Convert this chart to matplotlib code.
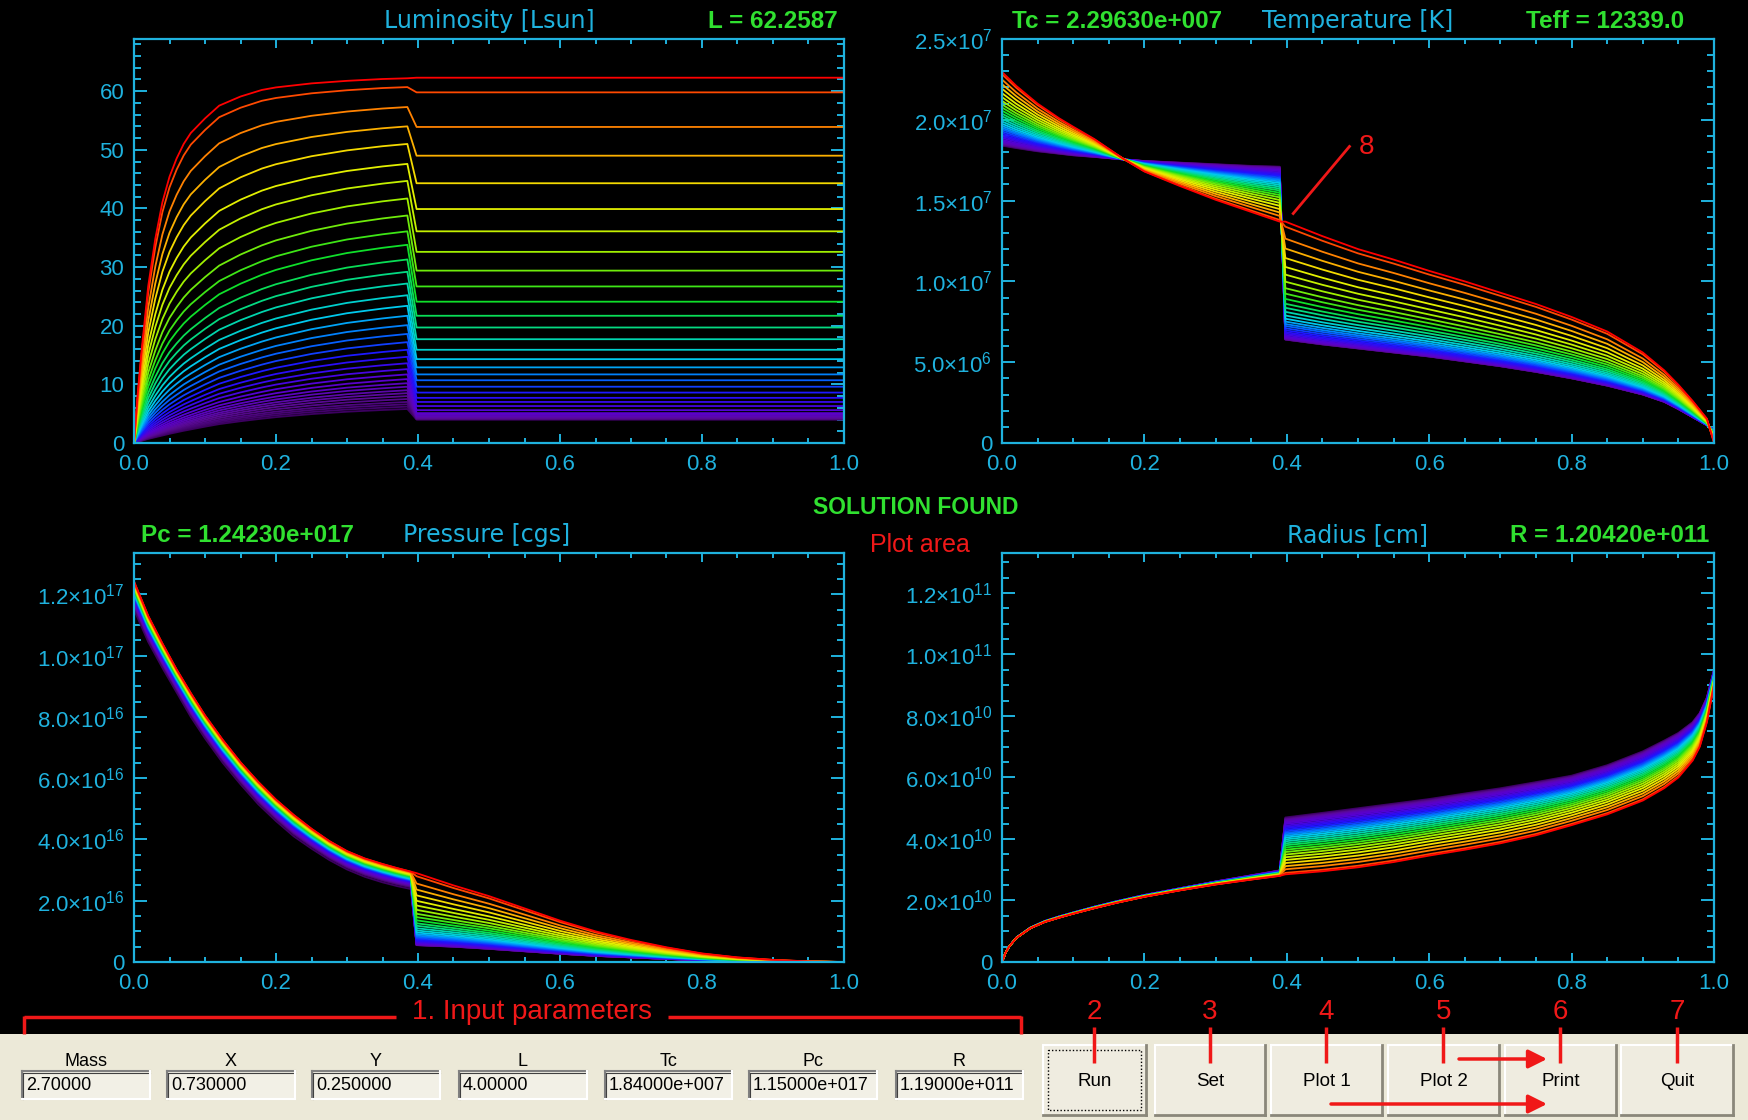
import numpy as np
import matplotlib
matplotlib.use("Agg")
import matplotlib.pyplot as plt
from matplotlib.colors import LinearSegmentedColormap
from matplotlib.patches import Rectangle
from matplotlib.ticker import FixedLocator, MultipleLocator

plt.rcParams['font.family'] = ['Liberation Sans', 'DejaVu Sans']
plt.rcParams['mathtext.default'] = 'regular'

W, H = 1749, 1120
CYAN = '#1FB2DE'
GREEN = '#30E030'
RED = '#F01818'
BEIGE = '#ECE9D8'

# ---------------- data (iterations listed from last/red to first/purple) -------------
lum_peak = [62.2, 60.7, 57.3, 54.0, 51.0, 47.6, 44.7, 41.7, 38.8, 36.1, 33.8, 31.3,
            29.2, 27.2, 25.2, 23.4, 21.7, 20.1, 18.6, 17.2, 15.9, 14.7, 13.6, 12.6,
            11.7, 10.9, 10.2, 9.6, 9.0, 8.5, 8.0, 7.5, 7.0, 6.6, 6.2, 5.8]
lum_plateau = [62.3, 59.8, 53.9, 49.0, 44.3, 39.9, 36.1, 32.6, 29.4, 26.7, 24.1, 21.7,
               19.7, 17.7, 15.9, 14.3, 12.9, 11.7, 10.7, 9.6, 8.6, 7.7, 7.0, 6.3,
               5.6, 5.1, 4.8, 4.6, 4.45, 4.35, 4.25, 4.18, 4.12, 4.07, 4.03, 4.0]
# normalised rise of L(m) inside the core (last and first iteration)
lum_x_in = [0, 0.005, 0.01, 0.02, 0.03, 0.04, 0.05, 0.06, 0.07, 0.08, 0.1, 0.12, 0.15,
            0.18, 0.2, 0.25, 0.3, 0.35, 0.385]
lum_shape_last = [0, 0.13, 0.24, 0.43, 0.56, 0.66, 0.73, 0.78, 0.82, 0.85, 0.89, 0.925, 0.95,
                  0.968, 0.975, 0.986, 0.993, 0.998, 1.0]
lum_shape_first = [0, 0.03, 0.06, 0.12, 0.17, 0.22, 0.27, 0.315, 0.36, 0.40, 0.48, 0.555, 0.64,
                   0.715, 0.76, 0.85, 0.92, 0.97, 1.0]
lum_x_out = [0.398, 1.0]

temp_x_in = [0, 0.02, 0.05, 0.08, 0.1, 0.13, 0.17, 0.2, 0.25, 0.3, 0.35, 0.39]
temp_last_in = [2.296e7, 2.21e7, 2.10e7, 2.01e7, 1.957e7, 1.88e7, 1.76e7, 1.68e7, 1.59e7, 1.505e7, 1.43e7, 1.37e7]
temp_first_in = [1.84e7, 1.825e7, 1.805e7, 1.79e7, 1.78e7, 1.77e7, 1.755e7, 1.745e7, 1.735e7, 1.725e7, 1.715e7, 1.71e7]
temp_x_out = [0.398, 0.45, 0.5, 0.55, 0.6, 0.65, 0.7, 0.75, 0.8, 0.85, 0.9, 0.93, 0.95, 0.97, 0.99, 1.0]
temp_last_out = [1.37e7, 1.28e7, 1.20e7, 1.135e7, 1.065e7, 1.0e7, 9.3e6, 8.6e6, 7.8e6, 6.9e6,
                 5.6e6, 4.5e6, 3.6e6, 2.6e6, 1.5e6, 1.2339e4]
temp_first_out = [6.4e6, 6.1e6, 5.85e6, 5.6e6, 5.35e6, 5.05e6, 4.75e6, 4.4e6, 4.0e6, 3.55e6,
                  3.0e6, 2.55e6, 2.1e6, 1.6e6, 1.1e6, 0.8e6]

pres_x_in = [0, 0.02, 0.04, 0.06, 0.08, 0.1, 0.125, 0.15, 0.175, 0.2, 0.225, 0.25, 0.275,
             0.3, 0.325, 0.35, 0.37, 0.39]
pres_last_in = [1.2423e17, 1.13e17, 1.04e17, 9.55e16, 8.78e16, 8.05e16, 7.25e16, 6.52e16,
                5.88e16, 5.3e16, 4.8e16, 4.35e16, 3.95e16, 3.62e16, 3.38e16, 3.2e16, 3.07e16, 2.95e16]
pres_first_in = [1.15e17, 1.045e17, 9.6e16, 8.8e16, 8.0e16, 7.3e16, 6.5e16, 5.8e16, 5.15e16,
                 4.6e16, 4.1e16, 3.7e16, 3.33e16, 3.02e16, 2.78e16, 2.6e16, 2.48e16, 2.38e16]
pres_x_out = [0.398, 0.45, 0.5, 0.55, 0.6, 0.65, 0.7, 0.75, 0.8, 0.85, 0.9, 0.95, 1.0]
pres_last_out = [2.9e16, 2.5e16, 2.15e16, 1.75e16, 1.35e16, 1.0e16, 7.2e15, 4.8e15, 2.8e15,
                 1.5e15, 7e14, 2e14, 0.0]
pres_first_out = [5.5e15, 5.0e15, 4.3e15, 3.5e15, 2.7e15, 2.0e15, 1.5e15, 1.0e15, 6e14,
                  3e14, 1e14, 0.0, 0.0]

rad_x_in = [0, 0.005, 0.01, 0.02, 0.04, 0.06, 0.08, 0.1, 0.13, 0.16, 0.2, 0.25, 0.3, 0.35, 0.39]
rad_last_in = [0.0, 3.0e9, 5.0e9, 7.8e9, 1.10e10, 1.30e10, 1.44e10, 1.57e10, 1.75e10, 1.92e10,
               2.12e10, 2.33e10, 2.52e10, 2.68e10, 2.80e10]
rad_first_in = [0.0, 3.0e9, 5.0e9, 7.9e9, 1.12e10, 1.33e10, 1.48e10, 1.61e10, 1.80e10, 1.97e10,
                2.18e10, 2.40e10, 2.62e10, 2.82e10, 2.98e10]
rad_x_out = [0.398, 0.45, 0.5, 0.55, 0.6, 0.65, 0.7, 0.75, 0.8, 0.85, 0.9, 0.93, 0.95, 0.97, 0.98, 0.99, 1.0]
rad_last_out = [2.85e10, 2.95e10, 3.08e10, 3.25e10, 3.46e10, 3.65e10, 3.86e10, 4.12e10, 4.45e10,
                4.8e10, 5.25e10, 5.65e10, 6.0e10, 6.55e10, 7.0e10, 7.8e10, 9.0e10]
rad_first_out = [4.7e10, 4.85e10, 5.0e10, 5.15e10, 5.3e10, 5.48e10, 5.65e10, 5.85e10, 6.06e10,
                 6.4e10, 6.85e10, 7.2e10, 7.45e10, 7.8e10, 8.1e10, 8.6e10, 9.5e10]

L_final = 62.2587
Tc_final = 2.29630e7
Teff_final = 12339.0
Pc_final = 1.24230e17
R_final = 1.20420e11

input_names = ['Mass', 'X', 'Y', 'L', 'Tc', 'Pc', 'R']
input_values = ['2.70000', '0.730000', '0.250000', '4.00000', '1.84000e+007', '1.15000e+017', '1.19000e+011']
button_names = ['Run', 'Set', 'Plot 1', 'Plot 2', 'Print', 'Quit']
button_numbers = ['2', '3', '4', '5', '6', '7']

x_ticks = [0.0, 0.2, 0.4, 0.6, 0.8, 1.0]
lum_ticks = [0, 10, 20, 30, 40, 50, 60]
temp_ticks = [0, 5e6, 1e7, 1.5e7, 2e7, 2.5e7]
pres_ticks = [0, 2e16, 4e16, 6e16, 8e16, 1e17, 1.2e17]
rad_ticks = [0, 2e10, 4e10, 6e10, 8e10, 1e11, 1.2e11]

# ---------------- helpers ----------------
rainbow = LinearSegmentedColormap.from_list('idl_rainbow', [
    (0.0, '#3c0060'), (0.15, '#5a0a96'), (0.3, '#5a00d0'), (0.42, '#2010ff'),
    (0.5, '#0070ff'), (0.57, '#00c8f0'), (0.64, '#00d8a0'), (0.72, '#10e020'),
    (0.8, '#a0f000'), (0.87, '#f0f000'), (0.93, '#ffa000'), (0.97, '#ff5000'),
    (1.0, '#ff0000')])

N = len(lum_peak)
plateau = np.array(lum_plateau)
weight = (plateau - plateau.min()) / (plateau.max() - plateau.min())
tcol = 1 - np.arange(N) / (N - 1)


def idl_exp(v, nd=5):
    m, e = f'{v:.{nd}e}'.split('e')
    sign = e[0]
    return f'{m}e{sign}{int(e[1:]):03d}'


def sci_label(v):
    if v == 0:
        return '0'
    e = int(np.floor(np.log10(v) + 1e-9))
    m = v / 10 ** e
    return f'{m:.1f}×10$^{{{e}}}$'


fig = plt.figure(figsize=(W / 100, H / 100), dpi=100, facecolor='black')


def make_ax(left, top, right, bottom):
    return fig.add_axes([left / W, 1 - bottom / H, (right - left) / W, (bottom - top) / H])


def style(ax, ymax, yticks, ylabels, yminor):
    ax.set_facecolor('black')
    ax.set_xlim(0, 1)
    ax.set_ylim(0, ymax)
    for s in ax.spines.values():
        s.set_color(CYAN)
        s.set_linewidth(1.6)
        s.set_zorder(5)
    ax.xaxis.set_major_locator(FixedLocator(x_ticks))
    ax.set_xticklabels([f'{v:.1f}' for v in x_ticks])
    ax.xaxis.set_minor_locator(MultipleLocator(0.05))
    ax.yaxis.set_major_locator(FixedLocator(yticks))
    ax.set_yticklabels(ylabels)
    ax.yaxis.set_minor_locator(MultipleLocator(yminor))
    ax.tick_params(which='both', direction='in', color=CYAN, labelcolor=CYAN,
                   top=True, right=True, width=1.4, labelsize=16)
    ax.tick_params(axis='x', which='major', length=6.5, pad=8)
    ax.tick_params(axis='x', which='minor', length=3.5)
    ax.tick_params(axis='y', which='major', length=9.5, pad=7)
    ax.tick_params(axis='y', which='minor', length=5)


def draw_family(ax, x_in, first_in, last_in, p_in, x_out, first_out, last_out, p_out):
    first_in, last_in = np.array(first_in), np.array(last_in)
    first_out, last_out = np.array(first_out), np.array(last_out)
    for k in range(N - 1, -1, -1):
        a = weight[k] ** p_in
        b = weight[k] ** p_out
        y = np.concatenate([first_in + a * (last_in - first_in),
                            first_out + b * (last_out - first_out)])
        x = np.concatenate([x_in, x_out])
        ax.plot(x, y, color=rainbow(tcol[k]), lw=1.3)


ax_L = make_ax(134, 39, 844, 443)
ax_T = make_ax(1002, 39, 1714, 443)
ax_P = make_ax(134, 553, 844, 962)
ax_R = make_ax(1002, 553, 1714, 962)

# Luminosity
style(ax_L, 68.9, lum_ticks, [str(v) for v in lum_ticks], 2)
sl, sf = np.array(lum_shape_last), np.array(lum_shape_first)
for k in range(N - 1, -1, -1):
    a = weight[k] ** 0.6
    prof = sf + a * (sl - sf)
    x = np.concatenate([lum_x_in, lum_x_out])
    y = np.concatenate([lum_peak[k] * prof, [lum_plateau[k]] * 2])
    ax_L.plot(x, y, color=rainbow(tcol[k]), lw=1.3)

# Temperature
style(ax_T, 2.5e7, temp_ticks, [sci_label(v) for v in temp_ticks], 1e6)
draw_family(ax_T, temp_x_in, temp_first_in, temp_last_in, 0.7,
            temp_x_out, temp_first_out, temp_last_out, 1.0)
ax_T.plot([0.488, 0.409], [1.835e7, 1.42e7], color=RED, lw=2)
ax_T.text(0.512, 1.83e7, '8', color=RED, fontsize=20, ha='center', va='center')

# Pressure
style(ax_P, 1.335e17, pres_ticks, [sci_label(v) for v in pres_ticks], 5e15)
draw_family(ax_P, pres_x_in, pres_first_in, pres_last_in, 0.3,
            pres_x_out, pres_first_out, pres_last_out, 1.0)

# Radius
style(ax_R, 1.33e11, rad_ticks, [sci_label(v) for v in rad_ticks], 5e9)
draw_family(ax_R, rad_x_in, rad_first_in, rad_last_in, 0.5,
            rad_x_out, rad_first_out, rad_last_out, 0.6)
ax_R.plot([1.0, 1.0], [rad_last_out[-1], R_final], color='#ff0000', lw=1.3)

# ---------------- overlay (titles, GUI) ----------------
ov = fig.add_axes([0, 0, 1, 1])
ov.set_xlim(0, W)
ov.set_ylim(H, 0)
ov.axis('off')
ov.patch.set_alpha(0)

TT = dict(family='DejaVu Sans', fontsize=17, color=CYAN, va='center')
GT = dict(fontsize=17.5, fontweight='bold', color=GREEN, va='center')
ov.text(489, 21, 'Luminosity [Lsun]', ha='center', **TT)
ov.text(838, 21, f'L = {L_final:.4f}', ha='right', **GT)
ov.text(1012, 21, f'Tc = {idl_exp(Tc_final)}', ha='left', **GT)
ov.text(1358, 21, 'Temperature [K]', ha='center', **TT)
ov.text(1684, 21, f'Teff = {Teff_final:.1f}', ha='right', **GT)
ov.text(141, 535, f'Pc = {idl_exp(Pc_final)}', ha='left', **GT)
ov.text(487, 535, 'Pressure [cgs]', ha='center', **TT)
ov.text(1358, 535, 'Radius [cm]', ha='center', **TT)
ov.text(1709, 535, f'R = {idl_exp(R_final)}', ha='right', **GT)
ov.text(916, 508, 'SOLUTION FOUND', ha='center', va='center', fontsize=16.5,
        fontweight='bold', color=GREEN)
ov.text(920, 545, 'Plot area', ha='center', va='center', fontsize=18, color=RED)

# bottom GUI panel
ov.add_patch(Rectangle((0, 1034), W, H - 1034, facecolor=BEIGE, edgecolor='none'))

# "1. Input parameters" bracket
ov.text(532, 1012, '1. Input parameters', ha='center', va='center', fontsize=20, color=RED)
ov.plot([24, 396], [1017, 1017], color=RED, lw=2.5, solid_capstyle='butt')
ov.plot([668, 1021], [1017, 1017], color=RED, lw=2.5, solid_capstyle='butt')
ov.plot([24, 24], [1016, 1034], color=RED, lw=2.5, solid_capstyle='butt')
ov.plot([1021, 1021], [1016, 1034], color=RED, lw=2.5, solid_capstyle='butt')

field_x = [(22, 150), (167, 295), (312, 440), (459, 587), (605, 732), (749, 877), (896, 1023)]
fy0, fy1 = 1071, 1099
for (x0, x1), name, val in zip(field_x, input_names, input_values):
    ov.text((x0 + x1) / 2, 1061, name, ha='center', va='center', fontsize=13, color='black')
    ov.add_patch(Rectangle((x0, fy0), x1 - x0, fy1 - fy0, facecolor='#F2F0E6', edgecolor='none'))
    ov.plot([x0, x1], [fy0, fy0], color='#808080', lw=1.5)
    ov.plot([x0, x0], [fy0, fy1], color='#808080', lw=1.5)
    ov.plot([x0 + 1.5, x1], [fy0 + 1.5, fy0 + 1.5], color='#404040', lw=0.8)
    ov.plot([x0 + 1.5, x0 + 1.5], [fy0 + 1.5, fy1], color='#404040', lw=0.8)
    ov.plot([x0, x1], [fy1, fy1], color='white', lw=1.5)
    ov.plot([x1, x1], [fy0, fy1], color='white', lw=1.5)
    ov.text(x0 + 4, (fy0 + fy1) / 2 + 1, val, ha='left', va='center', fontsize=13, color='black')

button_x = [(1043, 1146), (1155, 1265), (1271, 1382), (1388, 1499), (1505, 1616), (1621, 1733)]
by0, by1 = 1045, 1115
for i, ((x0, x1), name, num) in enumerate(zip(button_x, button_names, button_numbers)):
    ov.add_patch(Rectangle((x0, by0), x1 - x0, by1 - by0, facecolor='#EFECE0', edgecolor='none'))
    ov.plot([x0, x1], [by0, by0], color='white', lw=1.5)
    ov.plot([x0, x0], [by0, by1], color='white', lw=1.5)
    ov.plot([x0, x1], [by1, by1], color='#8a877a', lw=2)
    ov.plot([x1, x1], [by0, by1], color='#8a877a', lw=2)
    if i == 0:
        ov.add_patch(Rectangle((x0 + 5, by0 + 5), x1 - x0 - 10, by1 - by0 - 10,
                               facecolor='none', edgecolor='black', lw=1, ls=(0, (1, 1.5))))
    cx = (x0 + x1) / 2
    ov.text(cx, 1081, name, ha='center', va='center', fontsize=13.5, color='black')
    ov.text(cx, 1012, num, ha='center', va='center', fontsize=20, color=RED)
    ov.plot([cx, cx], [1027, 1063], color=RED, lw=2.5, solid_capstyle='butt')

ov.annotate('', xy=(1547, 1059), xytext=(1459, 1059),
            arrowprops=dict(arrowstyle='-|>', color=RED, lw=2.5, mutation_scale=28,
                            shrinkA=0, shrinkB=0))
ov.annotate('', xy=(1547, 1104), xytext=(1331, 1104),
            arrowprops=dict(arrowstyle='-|>', color=RED, lw=2.5, mutation_scale=28,
                            shrinkA=0, shrinkB=0))

fig.savefig('out.png', dpi=100, facecolor='black')
